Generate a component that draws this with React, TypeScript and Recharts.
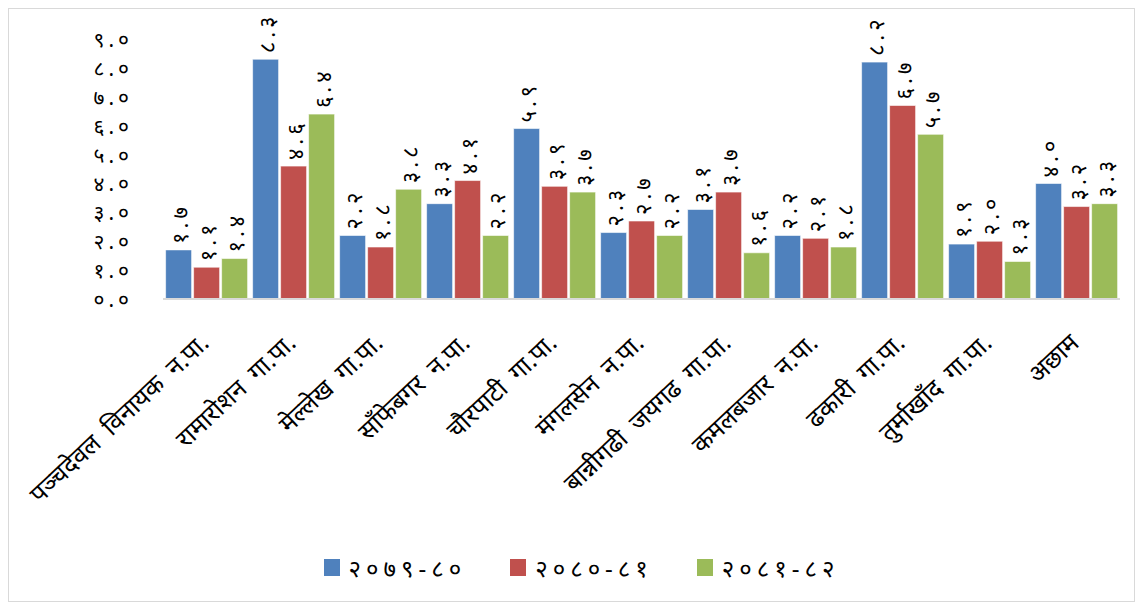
import { BarChart, Bar, XAxis, YAxis, Legend, LabelList } from "recharts";

const categories = [
  "पञ्चदेवल विनायक न.पा.",
  "रामारोशन गा.पा.",
  "मेल्लेख गा.पा.",
  "साँफेबगर न.पा.",
  "चौरपाटी गा.पा.",
  "मंगलसेन न.पा.",
  "बान्नीगढी जयगढ गा.पा.",
  "कमलबजार न.पा.",
  "ढकारी गा.पा.",
  "तुर्माखाँद गा.पा.",
  "अछाम",
];

const seriesNames = ["२०७९-८०", "२०८०-८१", "२०८१-८२"];
const seriesColors = ["#4F81BD", "#C0504D", "#9BBB59"];

const values7980 = [1.7, 8.3, 2.2, 3.3, 5.9, 2.3, 3.1, 2.2, 8.2, 1.9, 4.0];
const values8081 = [1.1, 4.6, 1.8, 4.1, 3.9, 2.7, 3.7, 2.1, 6.7, 2.0, 3.2];
const values8182 = [1.4, 6.4, 3.8, 2.2, 3.7, 2.2, 1.6, 1.8, 5.7, 1.3, 3.3];

const yTicks = [0, 1, 2, 3, 4, 5, 6, 7, 8, 9];

const DIGITS = "०१२३४५६७८९";
const toDev = (n: number) => n.toFixed(1).replace(/\d/g, (d) => DIGITS[+d]);

const data = categories.map((name, i) => ({
  name,
  s0: values7980[i],
  s1: values8081[i],
  s2: values8182[i],
}));

const FONT = "'Noto Sans', sans-serif";

function CategoryTick(props: any) {
  const { x, y, payload } = props;
  return (
    <g transform={`translate(${x + 4}, ${y + 38}) rotate(-43)`}>
      <text
        x={0}
        y={0}
        textAnchor="end"
        fontSize={25}
        fontFamily={FONT}
        wordSpacing={6}
        fill="#000"
      >
        {payload.value}
      </text>
    </g>
  );
}

function ValueTick(props: any) {
  const { x, y, payload } = props;
  return (
    <text
      x={x}
      y={y}
      textAnchor="end"
      dominantBaseline="central"
      fontSize={21}
      letterSpacing={4}
      fontFamily={FONT}
      fill="#000"
    >
      {toDev(payload.value)}
    </text>
  );
}

function VerticalLabel(props: any) {
  const { x, y, width, value } = props;
  const cx = Number(x) + Number(width) / 2;
  const cy = Number(y) - 6;
  return (
    <g transform={`translate(${cx}, ${cy}) rotate(-90)`}>
      <text
        x={0}
        y={0}
        textAnchor="start"
        dominantBaseline="central"
        fontSize={22}
        letterSpacing={4}
        fontFamily={FONT}
        fill="#000"
      >
        {toDev(Number(value))}
      </text>
    </g>
  );
}

function LegendBox() {
  return (
    <div
      style={{
        display: "flex",
        justifyContent: "center",
        gap: 44,
        fontFamily: FONT,
        fontSize: 24,
        letterSpacing: 5,
        marginLeft: 34,
      }}
    >
      {seriesNames.map((s, i) => (
        <div key={s} style={{ display: "flex", alignItems: "center", gap: 9 }}>
          <span
            style={{
              width: 16,
              height: 17,
              background: seriesColors[i],
              display: "inline-block",
            }}
          />
          <span>{s}</span>
        </div>
      ))}
    </div>
  );
}

export default function App() {
  return (
    <div
      style={{
        width: 1125,
        height: 592,
        border: "1px solid #d9d9d9",
        background: "#fff",
      }}
    >
      <BarChart
        width={1125}
        height={592}
        data={data}
        margin={{ top: 30, right: 14, bottom: 0, left: 0 }}
        barCategoryGap="3%"
        barGap={2}
      >
        <XAxis
          dataKey="name"
          interval={0}
          height={252}
          tick={(p: any) => <CategoryTick {...p} />}
          tickLine={false}
          axisLine={{ stroke: "#d9d9d9", strokeWidth: 2 }}
        />
        <YAxis
          domain={[0, 9]}
          ticks={yTicks}
          width={154}
          tick={(p: any) => <ValueTick {...p} />}
          tickLine={false}
          axisLine={false}
          tickMargin={24}
        />
        <Legend verticalAlign="bottom" height={50} content={<LegendBox />} />
        {seriesNames.map((s, i) => (
          <Bar
            key={s}
            dataKey={`s${i}`}
            name={s}
            fill={seriesColors[i]}
            stroke="#ffffff"
            strokeOpacity={0.6}
            strokeWidth={1}
            isAnimationActive={false}
          >
            <LabelList
              dataKey={`s${i}`}
              content={(p: any) => <VerticalLabel {...p} />}
            />
          </Bar>
        ))}
      </BarChart>
    </div>
  );
}
